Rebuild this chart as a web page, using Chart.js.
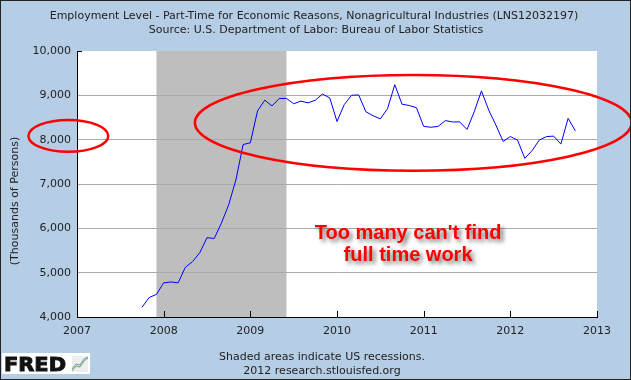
<!DOCTYPE html>
<html>
<head>
<meta charset="utf-8">
<title>Part-Time for Economic Reasons</title>
<script src="https://cdn.jsdelivr.net/npm/chart.js@4.4.1/dist/chart.umd.min.js"></script>
<style>
  html, body { margin: 0; padding: 0; background: #b5cde5; }
  canvas { display: block; }
</style>
</head>
<body>
<canvas id="fred" width="631" height="380"></canvas>
<script>
const MONTHS = [
  '2007-10','2007-11','2007-12',
  '2008-01','2008-02','2008-03','2008-04','2008-05','2008-06','2008-07','2008-08','2008-09','2008-10','2008-11','2008-12',
  '2009-01','2009-02','2009-03','2009-04','2009-05','2009-06','2009-07','2009-08','2009-09','2009-10','2009-11','2009-12',
  '2010-01','2010-02','2010-03','2010-04','2010-05','2010-06','2010-07','2010-08','2010-09','2010-10','2010-11','2010-12',
  '2011-01','2011-02','2011-03','2011-04','2011-05','2011-06','2011-07','2011-08','2011-09','2011-10','2011-11','2011-12',
  '2012-01','2012-02','2012-03','2012-04','2012-05','2012-06','2012-07','2012-08','2012-09','2012-10'
];
const VALUES = [
  4220, 4440, 4510,
  4770, 4790, 4770, 5120, 5250, 5450, 5790, 5770, 6120, 6530, 7090, 7890,
  7930, 8650, 8890, 8760, 8930, 8930, 8810, 8870, 8830, 8890, 9030, 8940,
  8410, 8790, 9000, 9010, 8630, 8540, 8470, 8700, 9240, 8800, 8770, 8720,
  8300, 8280, 8300, 8430, 8400, 8400, 8230, 8630, 9100, 8670, 8330, 7960,
  8070, 7990, 7580, 7750, 7990, 8070, 8080, 7900, 8480, 8200
];

const YEAR_TICKS = [2007, 2008, 2009, 2010, 2011, 2012, 2013];
const VALUE_TICKS = [4000, 5000, 6000, 7000, 8000, 9000, 10000];
// recession: Dec 2007 - Jun 2009
const RECESSION = [2007 + 11/12, 2009 + 5/12];

const TITLE = [
  'Employment Level - Part-Time for Economic Reasons, Nonagricultural Industries (LNS12032197)',
  'Source: U.S. Department of Labor: Bureau of Labor Statistics'
];
const Y_TITLE = '(Thousands of Persons)';
const FOOTNOTE = ['Shaded areas indicate US recessions.', '2012 research.stlouisfed.org'];
const NOTE = ["Too many can't find", 'full time work'];

// hand drawn circles, in data units: [centre year, centre value, radius years, radius value]
const ELLIPSES = [
  [2010.88, 8380, 2.52, 1080],
  [2006.90, 8085, 0.46, 360]
];

function toYear(m){
  const [y, mo] = m.split('-').map(Number);
  return y + (mo - 1) / 12;
}
const points = MONTHS.map((m, i) => ({ x: toYear(m), y: VALUES[i] }));

const FONT = '"DejaVu Sans", Verdana, sans-serif';
const BG = '#b5cde5';

const fredDecor = {
  id: 'fredDecor',
  beforeDraw(chart){
    const { ctx, chartArea: a, scales: { x } } = chart;
    ctx.save();
    ctx.fillStyle = BG;
    ctx.fillRect(0, 0, chart.width, chart.height);
    ctx.fillStyle = '#fff';
    ctx.fillRect(a.left, a.top, a.right - a.left, a.bottom - a.top);
    const x0 = x.getPixelForValue(RECESSION[0]);
    const x1 = x.getPixelForValue(RECESSION[1]);
    ctx.fillStyle = '#bebebe';
    ctx.fillRect(x0, a.top, x1 - x0, a.bottom - a.top);
    ctx.restore();
  },
  afterDatasetsDraw(chart){
    const { ctx, chartArea: a, scales: { x, y } } = chart;
    ctx.save();
    ctx.strokeStyle = '#000';
    ctx.lineWidth = 1;
    ctx.beginPath();
    YEAR_TICKS.slice(1).forEach(t => {
      const px = Math.round(x.getPixelForValue(t)) + 0.5;
      ctx.moveTo(px, a.bottom);
      ctx.lineTo(px, a.bottom - 6);
    });
    const ty = Math.round(y.getPixelForValue(VALUE_TICKS[VALUE_TICKS.length - 1])) + 0.5;
    ctx.moveTo(a.left, ty);
    ctx.lineTo(a.left + 5, ty);
    ctx.stroke();
    ctx.restore();
  },
  afterDraw(chart){
    const { ctx, scales: { x, y } } = chart;
    ctx.save();
    ctx.fillStyle = '#222';
    ctx.textAlign = 'center';
    ctx.textBaseline = 'middle';
    ctx.font = '11px ' + FONT;
    ctx.fillText(TITLE[0], 314, 16);
    ctx.fillText(TITLE[1], 316, 30);
    ctx.fillText(FOOTNOTE[0], 322, 357);
    ctx.fillText(FOOTNOTE[1], 322, 371);

    ctx.save();
    ctx.translate(15, 201);
    ctx.rotate(-Math.PI / 2);
    ctx.fillText(Y_TITLE, 0, 0);
    ctx.restore();

    // FRED logo
    ctx.fillStyle = '#fff';
    ctx.fillRect(2, 353, 88, 21);
    ctx.fillStyle = '#111';
    ctx.font = 'bold 20px ' + FONT;
    ctx.textAlign = 'left';
    ctx.textBaseline = 'alphabetic';
    const w = ctx.measureText('FRED').width;
    ctx.save();
    ctx.translate(4, 371);
    ctx.scale(62 / w, 1);
    ctx.fillText('FRED', 0, 0);
    ctx.strokeStyle = '#111';
    ctx.lineWidth = 1;
    ctx.strokeText('FRED', 0, 0);
    ctx.restore();
    ctx.fillStyle = '#eee';
    ctx.fillRect(72, 356, 16, 16);
    ctx.lineWidth = 1;
    ctx.strokeStyle = '#6aa84f';
    ctx.beginPath();
    ctx.moveTo(72, 371); ctx.lineTo(76, 366); ctx.lineTo(80, 367); ctx.lineTo(84, 361); ctx.lineTo(88, 358);
    ctx.stroke();
    ctx.strokeStyle = '#6d8fc7';
    ctx.beginPath();
    ctx.moveTo(72, 369); ctx.lineTo(76, 364); ctx.lineTo(80, 365); ctx.lineTo(84, 359); ctx.lineTo(88, 357);
    ctx.stroke();

    // red annotation circles
    ctx.strokeStyle = '#ff0000';
    ctx.lineWidth = 2.5;
    ELLIPSES.forEach(([cx, cy, rx, ry]) => {
      const px = x.getPixelForValue(cx), py = y.getPixelForValue(cy);
      const prx = x.getPixelForValue(cx + rx) - px;
      const pry = py - y.getPixelForValue(cy + ry);
      ctx.beginPath();
      ctx.ellipse(px, py, prx, pry, 0, 0, Math.PI * 2);
      ctx.stroke();
    });

    // annotation text with drop shadow
    ctx.font = 'bold 20px "Liberation Sans", Arial, sans-serif';
    ctx.textAlign = 'center';
    ctx.textBaseline = 'alphabetic';
    ctx.fillStyle = '#ff0000';
    ctx.shadowColor = 'rgba(0,0,0,0.55)';
    ctx.shadowBlur = 4;
    ctx.shadowOffsetX = 3;
    ctx.shadowOffsetY = 3;
    const nx = x.getPixelForValue(2010.82);
    const ny = y.getPixelForValue(5750);
    ctx.fillText(NOTE[0], nx, ny);
    ctx.fillText(NOTE[1], nx, ny + 22);
    ctx.restore();

    ctx.save();
    ctx.strokeStyle = '#222';
    ctx.lineWidth = 1;
    ctx.strokeRect(0.5, 0.5, chart.width - 1, chart.height - 1);
    ctx.restore();
  }
};

new Chart(document.getElementById('fred'), {
  type: 'line',
  data: {
    datasets: [{
      data: points,
      borderColor: '#0000ff',
      borderWidth: 1,
      pointRadius: 0,
      tension: 0,
      fill: false
    }]
  },
  options: {
    responsive: false,
    animation: false,
    devicePixelRatio: 1,
    layout: { padding: { left: 0, right: 34, top: 51, bottom: 0 } },
    plugins: { legend: { display: false }, title: { display: false }, tooltip: { enabled: false } },
    scales: {
      x: {
        type: 'linear',
        min: YEAR_TICKS[0],
        max: YEAR_TICKS[YEAR_TICKS.length - 1],
        afterBuildTicks: s => { s.ticks = YEAR_TICKS.map(v => ({ value: v })); },
        afterFit: s => { s.height = 63; },
        ticks: {
          callback: v => String(v),
          color: '#222',
          font: { family: FONT, size: 11 },
          padding: 8,
          maxRotation: 0
        },
        grid: { display: false, drawTicks: false },
        border: { color: '#000', width: 1 }
      },
      y: {
        min: VALUE_TICKS[0],
        max: VALUE_TICKS[VALUE_TICKS.length - 1],
        afterBuildTicks: s => { s.ticks = VALUE_TICKS.map(v => ({ value: v })); },
        afterFit: s => { s.width = 77; },
        ticks: {
          callback: v => v.toLocaleString('en-US'),
          color: '#222',
          font: { family: FONT, size: 11 },
          padding: 6
        },
        grid: {
          drawTicks: false,
          color: c => (c.tick && c.tick.value > VALUE_TICKS[0] && c.tick.value < VALUE_TICKS[VALUE_TICKS.length - 1]) ? '#aaaaaa' : 'rgba(0,0,0,0)'
        },
        border: { color: '#000', width: 1 }
      }
    }
  },
  plugins: [fredDecor]
});
</script>
</body>
</html>
